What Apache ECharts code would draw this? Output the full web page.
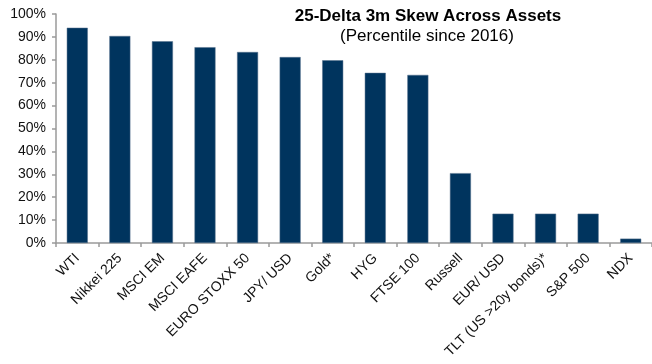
<!DOCTYPE html>
<html>
<head>
<meta charset="utf-8">
<script src="https://cdn.jsdelivr.net/npm/echarts@6/dist/echarts.min.js"></script>
<style>
  html, body { margin: 0; padding: 0; background: #fff; }
  #chart { width: 652px; height: 364px; }
</style>
</head>
<body>
<div id="chart"></div>
<script>
// Asset names along the x axis
const assets = ['WTI', 'Nikkei 225', 'MSCI EM', 'MSCI EAFE', 'EURO STOXX 50', 'JPY/ USD', 'Gold*',
  'HYG', 'FTSE 100', 'Russell', 'EUR/ USD', 'TLT (US >20y bonds)*', 'S&P 500', 'NDX'];
// Skew percentile since 2016, in %
const percentile = [94.0, 90.4, 88.1, 85.5, 83.4, 81.2, 79.8, 74.3, 73.4, 30.5, 12.8, 12.8, 12.8, 1.9];
// Y axis range and step, in %
const yMin = 0, yMax = 100, yStep = 10;

const titleText = '25-Delta 3m Skew Across Assets';
const subtitleText = '(Percentile since 2016)';

const FONT = '"Liberation Sans", Arial, sans-serif';
const chart = echarts.init(document.getElementById('chart'), null, { renderer: 'canvas' });

chart.setOption({
  animation: false,
  backgroundColor: '#ffffff',
  graphic: [
    {
      type: 'text', x: 428, y: 8,
      style: { text: titleText, font: 'bold 17px ' + FONT, fill: '#000', align: 'center', verticalAlign: 'top' }
    },
    {
      type: 'text', x: 427, y: 28,
      style: { text: subtitleText, font: '17px ' + FONT, fill: '#000', align: 'center', verticalAlign: 'top' }
    }
  ],
  grid: { left: 56, right: -3, top: 14, bottom: 121, containLabel: false },
  xAxis: {
    type: 'category',
    data: assets,
    axisLine: { lineStyle: { color: '#9a9a9a', width: 1.5 } },
    axisTick: { show: true, alignWithLabel: false, length: 4, lineStyle: { color: '#9a9a9a', width: 1.5 } },
    axisLabel: { rotate: 45, interval: 0, margin: 13, color: '#111', fontSize: 14, fontFamily: FONT }
  },
  yAxis: {
    type: 'value',
    min: yMin, max: yMax, interval: yStep,
    splitLine: { show: false },
    axisLine: { show: true, lineStyle: { color: '#9a9a9a', width: 1.5 } },
    axisTick: { show: true, length: 4, lineStyle: { color: '#9a9a9a', width: 1.5 } },
    axisLabel: { formatter: '{value}%', margin: 10, color: '#111', fontSize: 14, fontFamily: FONT }
  },
  series: [{
    type: 'bar',
    data: percentile,
    barWidth: 21,
    itemStyle: { color: '#00345e', borderColor: '#56718c', borderWidth: 0.5 }
  }]
});
</script>
</body>
</html>
